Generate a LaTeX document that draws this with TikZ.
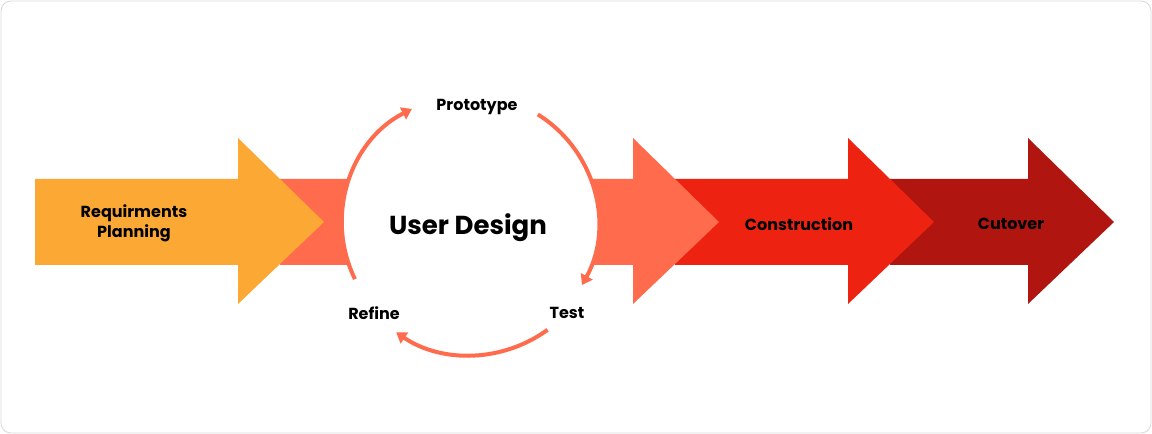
\documentclass[tikz,border=0pt]{standalone}
\usepackage{fontspec}
\setmainfont{Poppins}
\usetikzlibrary{arrows.meta}
\definecolor{cyel}{HTML}{FBA834}
\definecolor{csal}{HTML}{FF6B4D}
\definecolor{cred}{HTML}{EE2211}
\definecolor{cdrk}{HTML}{B0150F}
\tikzset{
  lbl/.style={font=\bfseries\fontsize{16}{20}\selectfont, align=center, text=black},
  cyc/.style={draw=csal, line width=4pt, -{Triangle[length=10pt,width=13pt]}}
}
\newcommand{\bigarrow}[3]{% color, body start x, head base x
  \fill[#1] (#2,169) -- (#3,169) -- (#3,130) -- ({#3+86},212) -- (#3,296) -- (#3,255) -- (#2,255) -- cycle;}
\begin{document}
\begin{tikzpicture}[x=1pt,y=1pt]
\useasboundingbox (0,0) rectangle (1152,434);
\draw[draw=black!15, rounded corners=10pt, line width=0.8pt] (1,1) rectangle (1151,433);
\bigarrow{cdrk}{890}{1028}
\bigarrow{cred}{675}{848}
\bigarrow{csal}{280}{633}
\bigarrow{cyel}{35}{238}
\fill[white] (470,211) circle (128);
\coordinate (c) at (470,211);
\draw[cyc] ([shift={(206:128)}]c) arc (206:117:128);
\draw[cyc] ([shift={(58:128)}]c) arc (58:-29:128);
\draw[cyc] ([shift={(-54:132)}]c) arc (-54:-124:132);
\node[lbl] (req) at (134,211) {Requirments\\Planning};
\node[lbl] (con) at (799,210) {Construction};
\node[lbl] (cut) at (1011,210) {Cutover};
\node[lbl] (pro) at (477,327) {Prototype};
\node[lbl] (tst) at (567,121) {Test};
\node[lbl] (ref) at (374,121) {Refine};
\node[font=\bfseries\fontsize{26}{30}\selectfont] (ud) at (468,206) {User Design};
\end{tikzpicture}
\end{document}
